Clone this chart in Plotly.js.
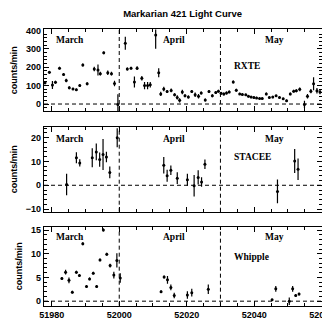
<!DOCTYPE html>
<html><head><meta charset="utf-8">
<script src="https://cdn.plot.ly/plotly-3.0.1.min.js"></script>
<style>html,body{margin:0;padding:0;background:#fff}#c{width:322px;height:323px}</style>
</head><body><div id="c"></div>
<script>
// RXTE
const rxteDay = [51978.0,51979.3,51980.2,51981.1,51982.3,51983.5,51984.3,51985.2,51986.3,51987.3,51988.3,51989.2,51990.5,51992.6,51993.7,51994.4,51995.4,51996.6,51997.7,51998.6,51999.6,
52001.8,52002.4,52003.5,52004.5,52005.3,52006.7,52007.5,52008.4,52009.2,52010.8,52011.7,52012.3,52013.2,52014.2,52015.4,52016.4,52017.2,52017.9,52018.7,52019.5,52020.5,52021.5,52022.5,52023.5,52024.3,52025.5,52026.6,52027.6,52028.6,52029.4,
52030.2,52031.0,52031.8,52032.6,52033.8,52034.7,52035.7,52036.5,52037.5,52038.3,52039.1,52039.9,52040.7,52041.6,52042.4,52043.6,52044.5,52045.5,52046.5,52047.5,52048.6,52049.6,52050.7,52051.7,52052.5,52053.5,52054.9,52055.8,52056.8,52057.6,52058.6,52059.5];
const rxteVal = [115,172,103,118,195,160,128,88,82,78,100,212,110,190,185,165,278,170,165,112,-2,
330,190,195,120,195,140,100,100,105,375,170,55,82,68,74,50,36,20,65,45,38,68,50,42,60,22,68,45,62,70,
58,54,60,66,120,75,55,52,50,42,38,36,33,30,30,55,36,38,45,36,28,18,55,70,72,80,-2,42,70,110,72,65];
const rxteErr = [8,8,22,8,8,8,10,8,6,6,8,8,8,12,30,10,8,12,10,15,55,
35,8,8,30,10,12,20,20,15,75,25,12,12,8,10,8,12,12,12,8,8,8,12,12,8,8,8,8,8,8,
8,8,8,8,8,8,6,6,6,6,6,6,6,6,6,8,6,6,6,6,6,6,8,8,8,10,20,12,12,35,15,12];
// STACEE
const staceeDay = [51984.4,51987.3,51988.3,51992.0,51993.2,51994.2,51995.2,51996.2,51997.2,51999.4,
52013.2,52014.2,52015.3,52017.2,52020.2,52022.2,52023.4,52024.4,52025.4,
52046.9,52052.0,52053.0];
const staceeVal = [0.3,11.6,9.4,11.6,14.0,10.8,12.9,11.9,5.4,20.0,8.4,4.0,6.3,3.0,2.3,-0.2,3.3,1.4,8.8,-2.6,10.2,6.7];
const staceeErr = [4.5,2.3,1.5,4.0,3.5,3.0,6.5,2.2,2.5,4.0,3.5,2.5,2.0,2.5,2.5,4.5,3.0,2.0,2.0,5.0,5.0,4.5];
// Whipple
const whipDay = [51983.0,51984.1,51985.1,51986.1,51987.3,51988.2,51989.2,51990.3,51991.2,51992.3,51993.3,51994.3,51995.3,51996.3,51997.3,51998.4,51999.3,52000.3,
52012.4,52013.3,52014.3,52015.3,52016.3,52020.2,52021.5,52026.4,
52045.3,52046.4,52050.4,52051.4,52052.3,52053.3];
const whipVal = [4.8,6.1,4.4,1.9,6.1,5.4,12.1,3.1,4.7,5.9,3.1,8.7,15.0,9.9,7.5,5.5,8.6,4.9,
2.0,5.1,4.5,2.9,1.2,1.3,1.8,2.5,0.3,2.6,0.0,2.6,1.2,1.5];
const whipErr = [0.3,0.5,0.6,0.3,0.3,0.3,0.3,0.3,0.3,0.3,0.3,0.3,0.3,0.3,0.4,0.7,1.5,1.0,
0.3,0.3,0.8,0.6,0.6,0.8,0.8,1.0,0.2,0.6,0.8,0.6,0.3,0.3];

const monthNames = ["March","April","May"];
const monthPos = [51985.4,52016.1,52046.0];
const monthBounds = [52000,52030];
const instNames = ["RXTE","STACEE","Whipple"];
const instX = 52033.4;

const xRange = [51977.7, 52060.1];
const yRanges = [[-38,405],[-11.1,24.6],[-0.95,15.7]];
const yDtick = [100,10,5];
const yMinor = [20,2,1];
const domains = [[0.6563,0.9087],[0.3446,0.6077],[0.0536,0.2981]];
const monthY = [0.87,0.855,0.87];
const instY = [0.55,0.64,0.615];

const series = [[rxteDay,rxteVal,rxteErr],[staceeDay,staceeVal,staceeErr],[whipDay,whipVal,whipErr]];
const traces = series.map((s,i)=>({
  type:'scatter', mode:'markers', x:s[0], y:s[1],
  xaxis: i===0?'x':'x'+(i+1), yaxis: i===0?'y':'y'+(i+1),
  marker:{color:'#000', size:3},
  error_y:{type:'data', array:s[2], visible:true, color:'#000', thickness:1.2, width:0},
  hoverinfo:'skip', cliponaxis:true
}));

const font = {family:'Liberation Sans, Arial, sans-serif', size:9, color:'#000', weight:'bold'};
const txtFont = {family:'Liberation Serif, Times New Roman, serif', size:9.5, color:'#000', weight:'bold'};
const layout = {
  width:322, height:323, showlegend:false,
  paper_bgcolor:'#fff', plot_bgcolor:'#fff',
  margin:{l:44,r:0,t:0,b:0},
  font: font,
  title:{text:'Markarian 421 Light Curve', font:{family:'Liberation Sans, Arial, sans-serif', size:9.5, color:'#000', weight:'bold'}, x:0.567, xanchor:'center', y:0.957, yref:'container', yanchor:'middle'},
  shapes:[], annotations:[]
};
for(let i=0;i<3;i++){
  const xs = i===0?'xaxis':'xaxis'+(i+1);
  const ys = i===0?'yaxis':'yaxis'+(i+1);
  const xr = i===0?'x':'x'+(i+1);
  const yr = i===0?'y':'y'+(i+1);
  layout[xs] = {range:xRange, anchor:yr, domain:[0,1], showline:true, linecolor:'#000', linewidth:1.2, mirror:'ticks',
    ticks:'inside', ticklen:5, tickcolor:'#000', tickwidth:1, tick0:51980, dtick:20, showgrid:false, zeroline:false,
    showticklabels: i===2, tickfont:font, tickformat:'d', separatethousands:false, ticklabeloverflow:'allow',
    minor:{ticks:'inside', ticklen:3, dtick:5, tick0:51980, tickcolor:'#000', tickwidth:1, showgrid:false}};
  layout[ys] = {range:yRanges[i], anchor:xr, domain:domains[i], showline:true, linecolor:'#000', linewidth:1.2, mirror:'ticks',
    ticks:'inside', ticklen:5, tickcolor:'#000', tickwidth:1, dtick:yDtick[i], tick0:0, showgrid:false, zeroline:false,
    tickfont:font, title:{text:'counts/min', font:font, standoff:6},
    minor:{ticks:'inside', ticklen:3, dtick:yMinor[i], tick0:0, tickcolor:'#000', tickwidth:1, showgrid:false}};
  layout.shapes.push({type:'line', xref:xr+' domain', x0:0, x1:1, yref:yr, y0:0, y1:0, line:{color:'#000', width:1, dash:'4px,3px'}});
  monthBounds.forEach(b=>layout.shapes.push({type:'line', xref:xr, x0:b, x1:b, yref:yr+' domain', y0:0, y1:1, line:{color:'#000', width:1, dash:'4px,3px'}}));
  monthNames.forEach((m,k)=>layout.annotations.push({text:m, xref:xr, x:monthPos[k], yref:yr+' domain', y:monthY[i], showarrow:false, xanchor:'center', yanchor:'middle', font:txtFont}));
  layout.annotations.push({text:instNames[i], xref:xr, x:instX, yref:yr+' domain', y:instY[i], showarrow:false, xanchor:'left', yanchor:'middle', font:txtFont});
}
Plotly.newPlot('c', traces, layout, {staticPlot:true, displayModeBar:false});
</script></body></html>
